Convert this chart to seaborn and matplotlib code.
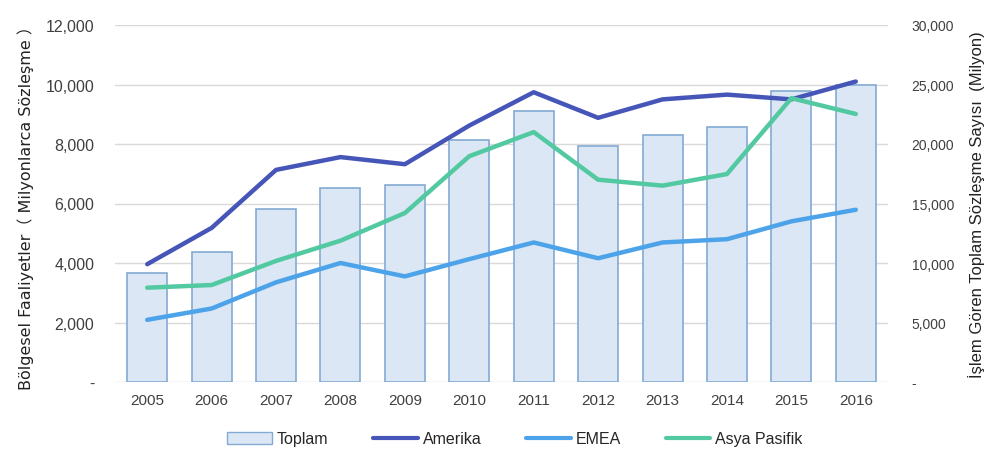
import numpy as np
import pandas as pd
import matplotlib
matplotlib.use("Agg")
import matplotlib.pyplot as plt
import seaborn as sns
from matplotlib.ticker import FuncFormatter
from matplotlib.patches import Patch
from matplotlib.lines import Line2D

years = [2005, 2006, 2007, 2008, 2009, 2010, 2011, 2012, 2013, 2014, 2015, 2016]
toplam = [9200, 10950, 14550, 16330, 16560, 20300, 22800, 19850, 20770, 21470, 24450, 24980]
amerika = [3960, 5180, 7130, 7560, 7320, 8620, 9740, 8880, 9500, 9660, 9500, 10100]
emea = [2090, 2470, 3350, 4000, 3550, 4130, 4690, 4160, 4690, 4800, 5400, 5790]
asya = [3170, 3260, 4070, 4750, 5680, 7590, 8400, 6800, 6600, 6990, 9540, 9010]

c_bar_fill = "#DBE7F4"
c_bar_edge = "#84AAD3"
c_am = "#4656B8"
c_em = "#4DA3EA"
c_as = "#52C9A0"

sns.set_theme(style="white")
plt.rcParams["font.family"] = ["Liberation Sans", "DejaVu Sans"]

fig = plt.figure(figsize=(9.84, 4.56), dpi=100)
ax = fig.add_axes([115/984, 1-383/456, (888-115)/984, (383-26)/456])

bars_df = pd.DataFrame({"Yıl": years, "Toplam": toplam})
sns.barplot(data=bars_df, x="Yıl", y="Toplam", native_scale=True, width=0.62,
            color=c_bar_fill, edgecolor=c_bar_edge, linewidth=1.2, saturation=1, ax=ax)
ax.set_ylim(0, 30000)
ax.set_yticks(np.arange(0, 30001, 5000))
ax.grid(axis="y", color="#D9D9D9", linewidth=1.0)
ax.set_axisbelow(True)

ax2 = ax.twinx()
lines_df = pd.DataFrame({"Yıl": years, "Amerika": amerika, "EMEA": emea, "Asya Pasifik": asya})
long = lines_df.melt(id_vars="Yıl", var_name="Bölge", value_name="Değer")
sns.lineplot(data=long, x="Yıl", y="Değer", hue="Bölge",
             palette={"Amerika": c_am, "EMEA": c_em, "Asya Pasifik": c_as},
             linewidth=3.2, ax=ax2, legend=False)
ax2.set_ylim(0, 12000)
ax2.set_yticks(np.arange(0, 12001, 2000))

ax.yaxis.tick_right()
ax.yaxis.set_label_position("right")
ax2.yaxis.tick_left()
ax2.yaxis.set_label_position("left")

ax.set_xlim(2004.5, 2016.5)
ax.set_xticks(years)
ax.set_xticklabels([str(y) for y in years], fontsize=11, color="#404040")

fmt = FuncFormatter(lambda v, p: "-" if v == 0 else f"{v:,.0f}")
ax.yaxis.set_major_formatter(fmt)
ax2.yaxis.set_major_formatter(fmt)

for a in (ax, ax2):
    for s in a.spines.values():
        s.set_visible(False)
    a.set_xlabel("")

ax.tick_params(axis="y", labelsize=10, colors="#404040", pad=17, length=0)
ax.tick_params(axis="x", pad=8, length=0)
ax2.tick_params(axis="y", labelsize=11.5, colors="#404040", pad=15, length=0)

ax2.set_ylabel("Bölgesel Faaliyetler（ Milyonlarca Sözleşme ）", fontsize=11.5, color="#222222", labelpad=8,
               family=["DejaVu Sans", "Noto Sans CJK SC"])
ax.set_ylabel("İşlem Gören Toplam Sözleşme Sayısı  (Milyon)", fontsize=12, color="#222222",
              labelpad=10, rotation=90)

handles = [Patch(facecolor=c_bar_fill, edgecolor=c_bar_edge, linewidth=1.0),
           Line2D([0], [0], color=c_am, lw=3),
           Line2D([0], [0], color=c_em, lw=3),
           Line2D([0], [0], color=c_as, lw=3)]
fig.legend(handles, ["Toplam", "Amerika", "EMEA", "Asya Pasifik"], loc="center",
           bbox_to_anchor=(515/984, 1-440/456), ncol=4, frameon=False, fontsize=11.5,
           handlelength=2.8, handletextpad=0.3, columnspacing=2.8)

fig.savefig("out.png", dpi=100)
